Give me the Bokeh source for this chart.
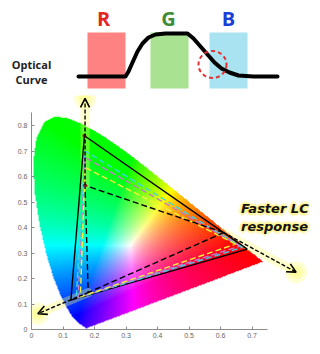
import numpy as np
from bokeh.plotting import figure
from bokeh.layouts import column
from bokeh.models import Range1d, FixedTicker, Label, Arrow, OpenHead, ColumnDataSource
from bokeh.core.properties import value
from bokeh.embed import file_html
from bokeh.resources import INLINE

# ---------------- data ----------------
# CIE 1931 spectral locus (chromaticity x, y)
locus_x = [0.1741, 0.1733, 0.1714, 0.1644, 0.1566, 0.1440, 0.1355, 0.1241, 0.1096, 0.0913,
           0.0687, 0.0454, 0.0235, 0.0082, 0.0039, 0.0139, 0.0389, 0.0743, 0.1142, 0.1547,
           0.1929, 0.2296, 0.2658, 0.3016, 0.3373, 0.3731, 0.4087, 0.4441, 0.4788, 0.5125,
           0.5448, 0.5752, 0.6029, 0.6270, 0.6658, 0.6915, 0.7079, 0.7190, 0.7260, 0.7300,
           0.7334, 0.7347]
locus_y = [0.0050, 0.0048, 0.0051, 0.0109, 0.0177, 0.0297, 0.0399, 0.0578, 0.0868, 0.1327,
           0.2007, 0.2950, 0.4127, 0.5384, 0.6548, 0.7502, 0.8120, 0.8338, 0.8262, 0.8059,
           0.7816, 0.7543, 0.7243, 0.6923, 0.6589, 0.6245, 0.5896, 0.5547, 0.5202, 0.4866,
           0.4544, 0.4242, 0.3965, 0.3725, 0.3340, 0.3083, 0.2920, 0.2809, 0.2740, 0.2700,
           0.2666, 0.2653]

# gamut triangles (largest -> smallest)
tri_colors = ["black", "#3ad6e6", "#c27cc8", "#f2f23a", "black"]
tri_dash = ["solid", "6 3", "6 3", "6 3", "6 3"]
red_x = [0.685, 0.670, 0.662, 0.648, 0.610]
red_y = [0.315, 0.322, 0.327, 0.335, 0.380]
green_x = [0.168, 0.170, 0.170, 0.170, 0.170]
green_y = [0.760, 0.700, 0.675, 0.635, 0.565]
blue_x = [0.125, 0.142, 0.148, 0.155, 0.180]
blue_y = [0.115, 0.122, 0.125, 0.128, 0.145]

# arrows ("faster LC response" direction)
arrow_x0 = [0.170, 0.610, 0.180]
arrow_y0 = [0.565, 0.380, 0.145]
arrow_x1 = [0.170, 0.840, 0.020]
arrow_y1 = [0.906, 0.225, 0.062]

x_ticks = [0, 0.1, 0.2, 0.3, 0.4, 0.5, 0.6, 0.7]
x_tick_labels = ["0", "0.1", "0.2", "0.3", "0.4", "0.5", "0.6", "0.7"]
y_ticks = [0, 0.1, 0.2, 0.3, 0.4, 0.5, 0.6, 0.7, 0.8]
y_tick_labels = ["0", "0.1", "0.2", "0.3", "0.4", "0.5", "0.6", "0.7", "0.8"]

# optical-curve schematic
band_labels = ["R", "G", "B"]
band_text_colors = ["#e42525", "#3c8c3a", "#1c3fd8"]
band_fill = ["#ff8282", "#a9e291", "#a9e3f1"]
curve_x = [78, 125, 128, 132, 137, 142, 148, 155, 165, 187, 193, 200, 207, 214, 221, 229, 238, 253, 277]
curve_y = [76, 76, 71, 62, 51, 43, 37, 34, 33, 33, 38, 46, 54, 62, 68, 72, 75, 76, 76]

# ---------------- top schematic ----------------
TOP_H = 95
top = figure(width=320, height=TOP_H, x_range=Range1d(0, 320), y_range=Range1d(TOP_H, 0),
             toolbar_location=None, output_backend="svg", x_axis_type=None, y_axis_type=None,
             min_border=0, outline_line_color=None, frame_align=False)
top.grid.visible = False
band_left = [87, 150, 209]
band_w = 38
top.quad(left=band_left, right=[b + band_w for b in band_left], top=[32] * 3, bottom=[88] * 3,
         fill_color=band_fill, line_color=None)
top.text(x=[103, 168, 228], y=[18, 18, 18], text=band_labels, text_color=band_text_colors,
         text_font=value("Open Sans"), text_font_size="20px", text_font_style="bold",
         text_align="center", text_baseline="middle")
top.line(curve_x, curve_y, line_color="black", line_width=4, line_join="round", line_cap="round")
top.ellipse(x=[212], y=[64], width=[28], height=[27], fill_color=None, line_color="#e03030",
            line_width=2, line_dash="4 3")
top.text(x=[31, 31], y=[64, 79], text=["Optical", "Curve"], text_color="#222222",
         text_font=value("Open Sans"), text_font_size="11px", text_font_style="bold",
         text_align="center", text_baseline="middle")

# ---------------- chromaticity diagram ----------------
PX_X = 315.0
PX_Y = 255.0
LEFT = 31
BOTTOM = 25
MAIN_H = 354 - TOP_H
p = figure(width=320, height=MAIN_H,
           x_range=Range1d(0, (320 - LEFT) / PX_X),
           y_range=Range1d(0, (MAIN_H - BOTTOM) / PX_Y),
           toolbar_location=None, output_backend="svg",
           min_border_left=LEFT, min_border_right=0, min_border_top=0, min_border_bottom=BOTTOM,
           outline_line_color=None, frame_align=False)
p.grid.visible = False

# gamut fill image
W, H = 472, 434
gx = np.linspace(0, 0.75, W)
gy = np.linspace(0, 0.85, H)
X, Y = np.meshgrid(gx, gy)
inside = np.zeros(X.shape, bool)
n = len(locus_x)
j = n - 1
for i in range(n):
    xi, yi, xj, yj = locus_x[i], locus_y[i], locus_x[j], locus_y[j]
    cond = ((yi > Y) != (yj > Y)) & (X < (xj - xi) * (Y - yi) / (yj - yi + 1e-12) + xi)
    inside ^= cond
    j = i
Ys = np.maximum(Y, 1e-4)
XX = X / Ys
ZZ = (1 - X - Y) / Ys
r = 3.2406 * XX - 1.5372 - 0.4986 * ZZ
g = -0.9689 * XX + 1.8758 + 0.0415 * ZZ
b = 0.0557 * XX - 0.2040 + 1.0570 * ZZ
rgb = np.clip(np.stack([r, g, b], axis=-1), 0, None)
mx = np.maximum(rgb.max(axis=-1, keepdims=True), 1e-9)
rgb = rgb / mx
rgb = np.power(rgb, 0.75)
img = np.zeros((H, W), dtype=np.uint32)
view = img.view(dtype=np.uint8).reshape((H, W, 4))
view[:, :, 0] = (rgb[:, :, 0] * 255).astype(np.uint8)
view[:, :, 1] = (rgb[:, :, 1] * 255).astype(np.uint8)
view[:, :, 2] = (rgb[:, :, 2] * 255).astype(np.uint8)
view[:, :, 3] = np.where(inside, 255, 0).astype(np.uint8)
p.image_rgba(image=[img], x=0, y=0, dw=0.75, dh=0.85)

# arrow glow
for k in range(3):
    p.line([arrow_x0[k], arrow_x1[k]], [arrow_y0[k], arrow_y1[k]], line_color="#ffff70",
           line_width=9, line_alpha=0.35, line_cap="round")
p.scatter(arrow_x1, arrow_y1, size=22, fill_color="#ffff80", fill_alpha=0.35, line_color=None)
p.scatter(arrow_x1, arrow_y1, size=14, fill_color="#ffff90", fill_alpha=0.5, line_color=None)

# triangles
for k in range(len(red_x)):
    p.line([red_x[k], green_x[k], blue_x[k], red_x[k]],
           [red_y[k], green_y[k], blue_y[k], red_y[k]],
           line_color=tri_colors[k], line_width=1.4, line_dash=tri_dash[k])

p.scatter([green_x[0], green_x[4]], [green_y[0], green_y[4]], size=4, fill_color="#8a2a1a",
          line_color=None)

# arrows
asrc = ColumnDataSource(dict(x0=arrow_x0, y0=arrow_y0, x1=arrow_x1, y1=arrow_y1))
p.add_layout(Arrow(source=asrc, x_start="x0", y_start="y0", x_end="x1", y_end="y1",
                   line_color="black", line_width=1.4, line_dash="4 2",
                   end=OpenHead(size=9, line_width=1.6, line_color="black")))

# "Faster LC response" with yellow halo
txt_x = [0.665, 0.665]
txt_y = [0.4745, 0.404]
txt = ["Faster LC", "response"]
for dx, dy in [(2, 0), (-2, 0), (0, 2), (0, -2), (1.5, 1.5), (-1.5, 1.5), (1.5, -1.5), (-1.5, -1.5),
               (3, 0), (-3, 0), (0, 3), (0, -3)]:
    p.text(x=txt_x, y=txt_y, text=txt, x_offset=dx, y_offset=dy, text_color="#fff27a",
           text_alpha=0.35, text_font=value("DejaVu Sans"), text_font_size="13px",
           text_font_style="bold italic", text_baseline="middle")
p.text(x=txt_x, y=txt_y, text=txt, text_color="#111111", text_font=value("DejaVu Sans"),
       text_font_size="13px", text_font_style="bold italic", text_baseline="middle")

# axes
for ax, ticks, labels, bnd in [(p.xaxis, x_ticks, x_tick_labels, (0, 0.75)),
                               (p.yaxis, y_ticks, y_tick_labels, (0, 0.85))]:
    ax.ticker = FixedTicker(ticks=ticks)
    ax.major_label_overrides = {t: l for t, l in zip(ticks, labels)}
    ax.bounds = bnd
    ax.axis_line_color = "#8a8a8a"
    ax.major_tick_line_color = "#8a8a8a"
    ax.major_tick_in = 3
    ax.major_tick_out = 0
    ax.minor_tick_line_color = None
    ax.major_label_text_font_size = "7px"
    ax.major_label_text_color = "#666666"
    ax.major_label_text_font = "Liberation Sans"
p.xaxis.major_label_standoff = 3
p.yaxis.major_label_standoff = 4

p.add_layout(Label(x=0.375, y=-0.07, text="x", text_align="center", text_baseline="middle",
                   text_font_size="8px", text_color="#555555", text_font="Liberation Sans"))
p.add_layout(Label(x=-0.067, y=0.39, text="y", angle=np.pi / 2, text_align="center",
                   text_baseline="middle", text_font_size="8px", text_color="#555555",
                   text_font="Liberation Sans"))

layout = column(top, p, spacing=0)
open("out.html", "w").write(file_html(layout, INLINE, title="chromaticity"))
